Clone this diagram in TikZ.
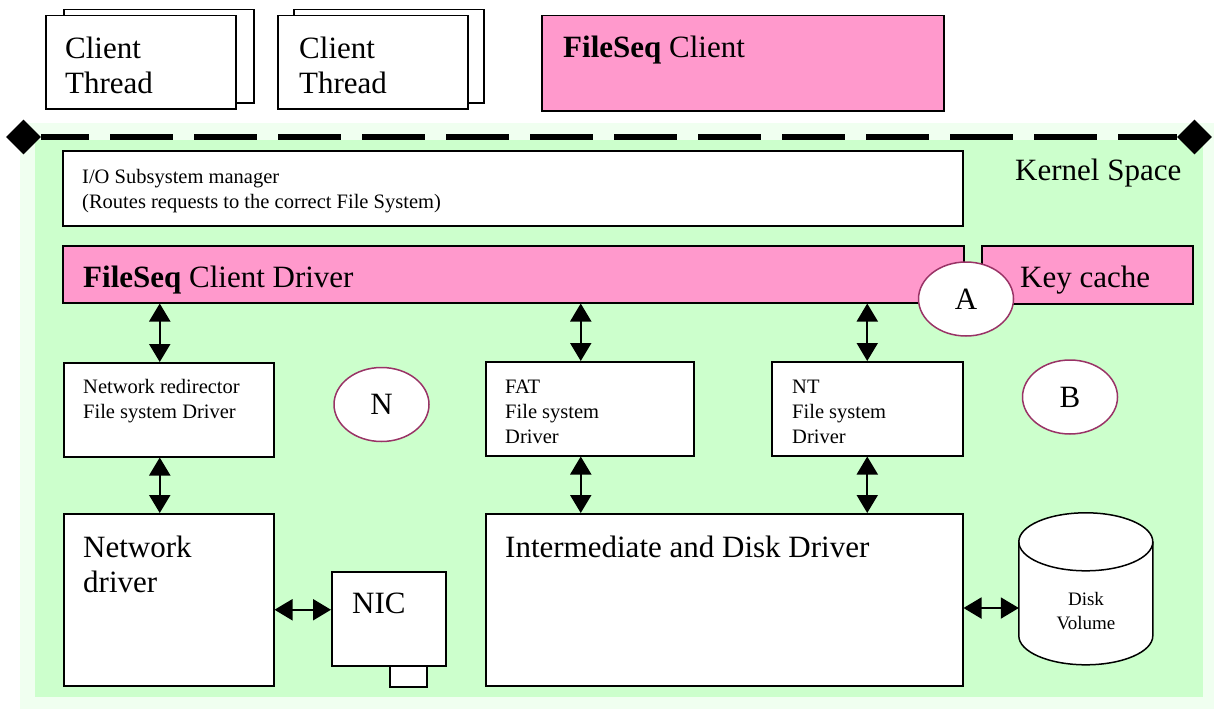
\documentclass[tikz,border=0pt]{standalone}
\usepackage{fontspec}
\setmainfont{Liberation Serif}
\usetikzlibrary{arrows.meta,shapes.geometric}

\definecolor{pinkfill}{HTML}{FF99CC}
\definecolor{kernelgreen}{HTML}{CCFFCC}
\definecolor{kernelhalo}{HTML}{F0FFF0}
\definecolor{plumline}{HTML}{993366}

\newcommand{\bigfnt}{\fontsize{31}{35}\selectfont}
\newcommand{\smallfnt}{\fontsize{20.5}{25}\selectfont}
\newcommand{\diskfnt}{\fontsize{19}{24}\selectfont}

\begin{document}
\begin{tikzpicture}[x=1pt,y=-1pt,inner sep=0pt,
  >={Triangle[length=18pt,width=21pt]},
  box/.style={draw,line width=1.5pt,fill=white,anchor=north west},
  pbox/.style={box,fill=pinkfill},
  lbl/.style={anchor=base west,align=left,font=\bigfnt},
  slbl/.style={lbl,font=\smallfnt},
  oval/.style={ellipse,draw=plumline,line width=1.5pt,fill=white,
    minimum width=95pt,minimum height=74pt,font=\bigfnt},
  dbl/.style={<->,line width=2pt}]
\useasboundingbox (0,0) rectangle (1214,709);
% kernel space
\fill[kernelhalo] (20,123) rectangle (1214,709);
\fill[kernelgreen] (35,140) rectangle (1203,697);
\node[diamond,fill=black,minimum width=35pt,minimum height=35pt] (dl) at (23.5,137) {};
\node[diamond,fill=black,minimum width=35pt,minimum height=35pt] (dr) at (1194.5,137) {};
\draw[line width=6.5pt,dash pattern=on 63pt off 21pt,dash phase=15pt] (dl.east) -- (dr.west);
\node[anchor=base west,font=\bigfnt] (ks) at (1015,180) {Kernel Space};
%
% user side (base = last line)
\node[box,minimum width=190pt,minimum height=93pt] (ct1b) at (63,9) {};
\node[box,minimum width=190pt,minimum height=93pt] (ct1) at (45,15) {};
\node[lbl] (ct1t) at (65,93) {Client\\Thread};
\node[box,minimum width=190pt,minimum height=93pt] (ct2b) at (293,9) {};
\node[box,minimum width=190pt,minimum height=93pt] (ct2) at (277,15) {};
\node[lbl] (ct2t) at (299,93) {Client\\Thread};
\node[pbox,minimum width=402pt,minimum height=95pt] (fsc) at (541,15) {};
\node[lbl] (fsct) at (563,58) {\textbf{FileSeq} Client};
%
\node[box,minimum width=900pt,minimum height=75pt] (io) at (62,150) {};
\node[slbl] (iot) at (82,208) {I/O Subsystem manager\\(Routes requests to the correct File System)};
\node[pbox,minimum width=901pt,minimum height=57pt] (cdrv) at (62,245) {};
\node[lbl] (cdrvt) at (83,287) {\textbf{FileSeq} Client Driver};
\node[pbox,minimum width=211pt,minimum height=58pt] (kc) at (981,245) {};
\node[lbl] (kct) at (1020,287) {Key cache};
%
\node[box,minimum width=210pt,minimum height=94pt] (redir) at (63,362) {};
\node[slbl] (redirt) at (83,418) {Network redirector\\File system Driver};
\node[box,minimum width=208pt,minimum height=94pt] (fat) at (485,361) {};
\node[slbl] (fatt) at (505,443) {FAT\\File system\\Driver};
\node[box,minimum width=191pt,minimum height=94pt] (nt) at (771,361) {};
\node[slbl] (ntt) at (792,443) {NT\\File system\\Driver};
%
\node[box,minimum width=210pt,minimum height=172pt] (ndrv) at (63,513) {};
\node[lbl] (ndrvt) at (83,592) {Network\\driver};
\node[box,minimum width=37pt,minimum height=21pt] (tab) at (389,665) {};
\node[box,minimum width=114pt,minimum height=94pt] (nic) at (331,571) {};
\node[lbl] (nict) at (352,613) {NIC};
\node[box,minimum width=477pt,minimum height=172pt] (idd) at (485,513) {};
\node[lbl] (iddt) at (505,557) {Intermediate and Disk Driver};
%
\node[minimum width=134pt,minimum height=152pt] (disk) at (1086,589) {};
\draw[line width=1.5pt,fill=white] (disk.north west) ++(0,29) -- ++(0,94)
  arc[start angle=180,end angle=360,x radius=67pt,y radius=29pt] -- ++(0,-94)
  arc[start angle=0,end angle=180,x radius=67pt,y radius=29pt] -- cycle;
\draw[line width=1.5pt] (disk.north west) ++(0,29)
  arc[start angle=180,end angle=360,x radius=67pt,y radius=29pt];
\node[align=center,font=\diskfnt] (diskt) at (1086,611) {Disk\\Volume};
%%
\draw[dbl] ([xshift=-9pt]redir.north) -- ([xshift=-9pt]redir.north |- cdrv.south);
\draw[dbl] ([xshift=-9pt]redir.south) -- ([xshift=-9pt]redir.south |- ndrv.north);
\draw[dbl] ([xshift=-9pt]fat.north) -- ([xshift=-9pt]fat.north |- cdrv.south);
\draw[dbl] ([xshift=-9pt]fat.south) -- ([xshift=-9pt]fat.south |- idd.north);
\draw[dbl] (nt.north) -- (nt.north |- cdrv.south);
\draw[dbl] (nt.south) -- (nt.south |- idd.north);
\draw[dbl] ([yshift=9pt]nic.west) -- ([yshift=9pt]nic.west -| ndrv.east);
\draw[dbl] ([yshift=-19pt]disk.west) -- ([yshift=-19pt]disk.west -| idd.east);
%%
\node[oval] (ca) at (966,299) {A};
\node[oval] (cn) at (381.5,404.5) {N};
\node[oval] (cb) at (1070,397) {B};
\end{tikzpicture}
\end{document}
